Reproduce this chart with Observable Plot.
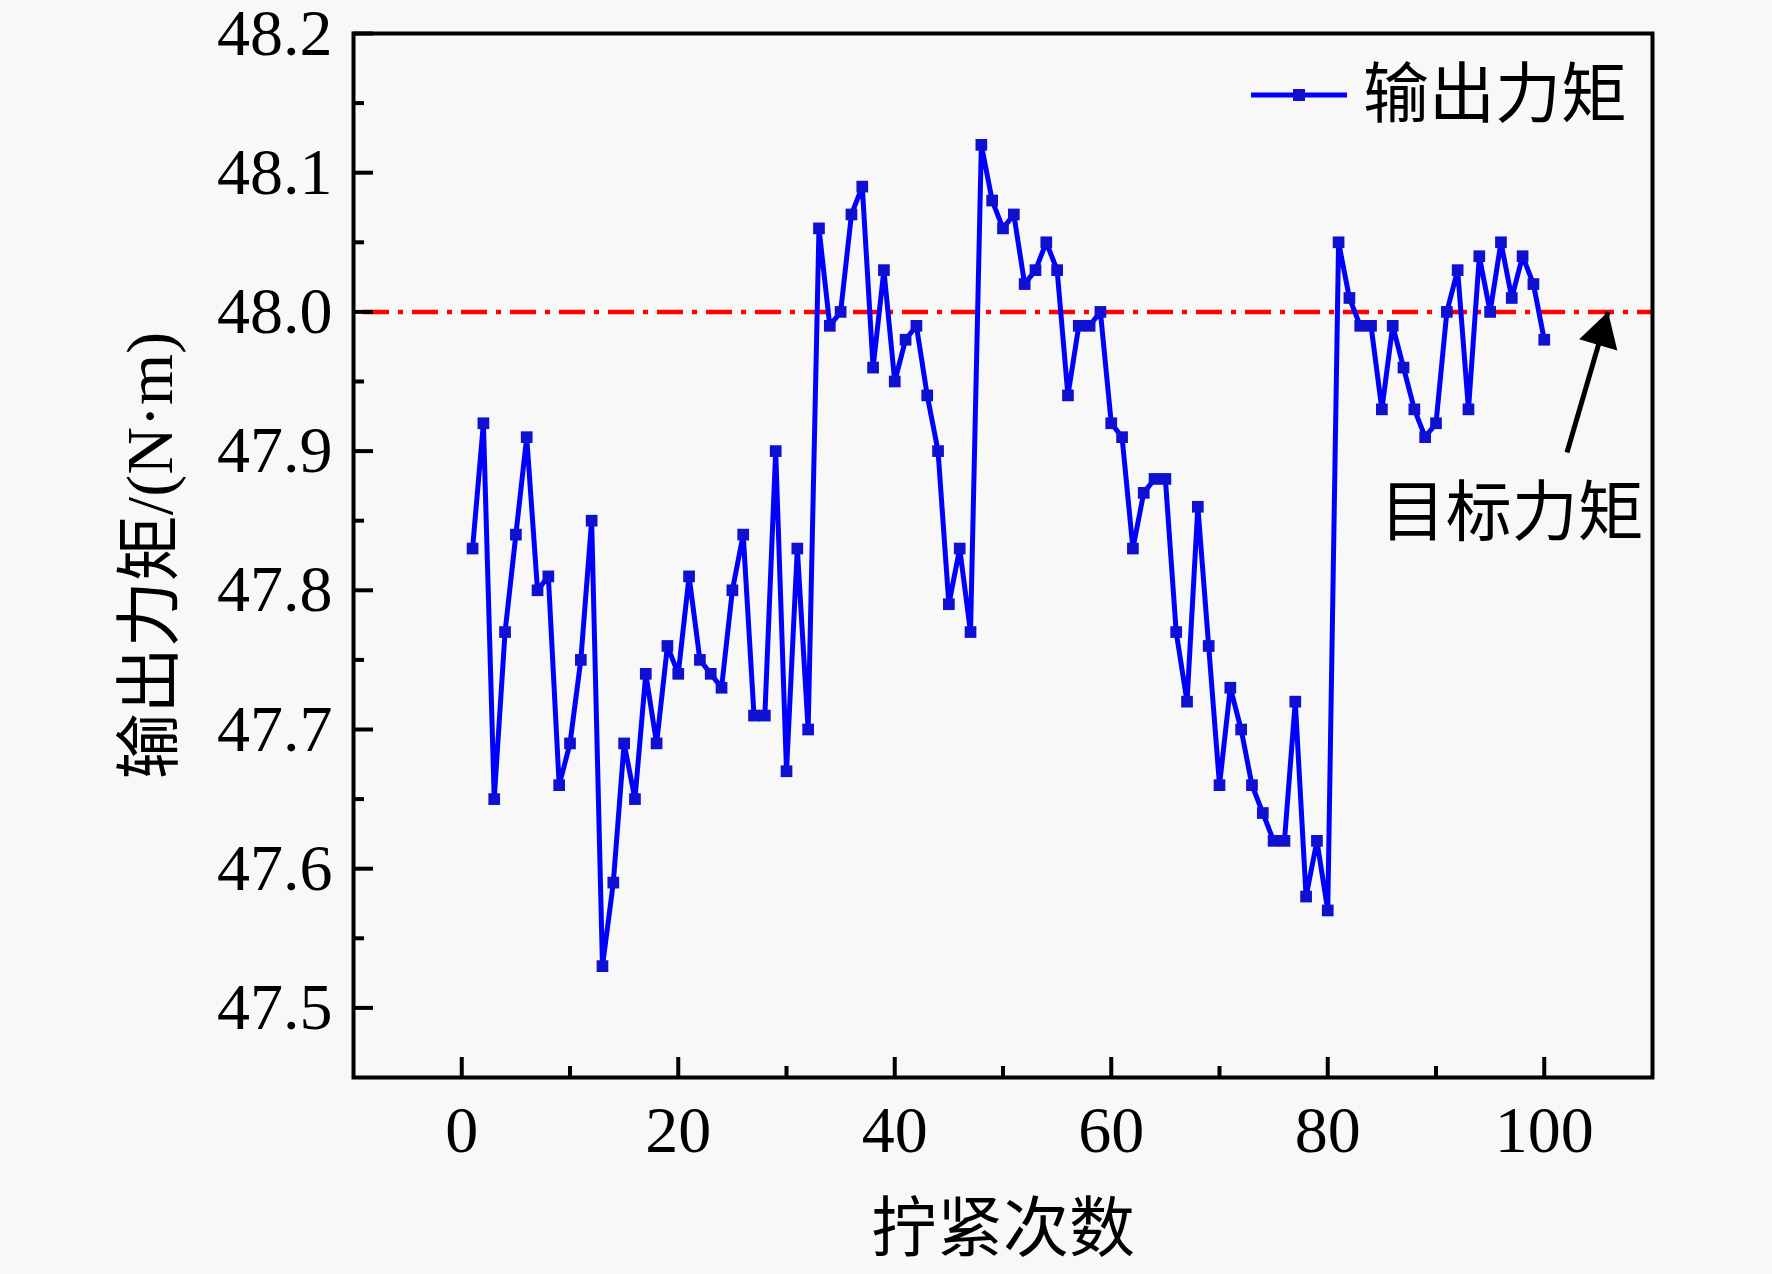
<!DOCTYPE html>
<html>
<head>
<meta charset="utf-8">
<script src="https://cdn.jsdelivr.net/npm/d3@7"></script>
<script src="https://cdn.jsdelivr.net/npm/@observablehq/plot@0.6"></script>
<style>
  html, body { margin: 0; padding: 0; background: #f8f8f8; }
  #wrap { position: relative; width: 1772px; height: 1274px; background: #f8f8f8; }
  #legend { position: absolute; left: 1251px; top: 60px; height: 70px; display: flex; align-items: center; }
  #legend span { margin-left: 16px; font-family: "Liberation Serif", "Noto Sans CJK SC", serif; font-size: 66px; color: #000; line-height: 1; }
</style>
</head>
<body>
<div id="wrap">
  <div id="chart"></div>
  <div id="legend">
    <svg width="96" height="20"><line x1="0" y1="10" x2="96" y2="10" stroke="#0000ff" stroke-width="5"/><rect x="42" y="4" width="12" height="12" fill="#1010d0"/></svg>
    <span>输出力矩</span>
  </div>
</div>
<script>
// Data
const trials = d3.range(1, 101);
const torque = [
  47.83, 47.92, 47.65, 47.77, 47.84, 47.91, 47.80, 47.81, 47.66, 47.69,
  47.75, 47.85, 47.53, 47.59, 47.69, 47.65, 47.74, 47.69, 47.76, 47.74,
  47.81, 47.75, 47.74, 47.73, 47.80, 47.84, 47.71, 47.71, 47.90, 47.67,
  47.83, 47.70, 48.06, 47.99, 48.00, 48.07, 48.09, 47.96, 48.03, 47.95,
  47.98, 47.99, 47.94, 47.90, 47.79, 47.83, 47.77, 48.12, 48.08, 48.06,
  48.07, 48.02, 48.03, 48.05, 48.03, 47.94, 47.99, 47.99, 48.00, 47.92,
  47.91, 47.83, 47.87, 47.88, 47.88, 47.77, 47.72, 47.86, 47.76, 47.66,
  47.73, 47.70, 47.66, 47.64, 47.62, 47.62, 47.72, 47.58, 47.62, 47.57,
  48.05, 48.01, 47.99, 47.99, 47.93, 47.99, 47.96, 47.93, 47.91, 47.92,
  48.00, 48.03, 47.93, 48.04, 48.00, 48.05, 48.01, 48.04, 48.02, 47.98
];
const targetTorque = [48.0];
const xMajorTicks = [0, 20, 40, 60, 80, 100];
const xMinorTicks = [10, 30, 50, 70, 90];
const yMajorTicks = [47.5, 47.6, 47.7, 47.8, 47.9, 48.0, 48.1, 48.2];
const yMinorTicks = [47.55, 47.65, 47.75, 47.85, 47.95, 48.05, 48.15];
const xLabel = "拧紧次数";
const yLabel = "输出力矩/(N·m)";
// annotation: arrow tail -> tip, and its text
const arrowFrom = [{x: 102.1, y: 47.899}];
const arrowTo = [{x: 105.9, y: 48.0}];
const noteText = [{x: 97.0, y: 47.855, text: "目标力矩"}];

const data = trials.map((t, i) => ({t, v: torque[i]}));
const arrow = arrowFrom.map((a, i) => ({x1: a.x, y1: a.y, x2: arrowTo[i].x, y2: arrowTo[i].y}));

const font = "'Liberation Serif', 'Noto Sans CJK SC', serif";

const chart = Plot.plot({
  width: 1772,
  height: 1274,
  marginLeft: 353,
  marginRight: 120,
  marginTop: 33,
  marginBottom: 197,
  x: {domain: [-10, 110]},
  y: {domain: [47.45, 48.2]},
  style: {background: "#f8f8f8", fontFamily: font, color: "#000", overflow: "visible"},
  marks: [
    Plot.ruleY(targetTorque, {stroke: "#ff0000", strokeWidth: 4.5, strokeDasharray: "26,9,5,9", strokeDashoffset: -10}),
    Plot.line(data, {x: "t", y: "v", stroke: "#0000ff", strokeWidth: 5}),
    Plot.dot(data, {x: "t", y: "v", symbol: "square", r: 6.6, fill: "#1010d0", stroke: null}),
    Plot.link(arrow, {x1: "x1", y1: "y1", x2: "x2", y2: "y2", stroke: "#000", strokeWidth: 5}),
    Plot.dot(arrowTo, {x: "x", y: "y", symbol: "triangle2", r: 19, fill: "#000", stroke: null, rotate: 16.5, dx: -6.6, dy: 22}),
    Plot.text(noteText, {x: "x", y: "y", text: "text", fontSize: 66, fontFamily: font, fill: "#000", textAnchor: "middle", lineAnchor: "middle"}),
    Plot.axisX(xMajorTicks, {tickSize: -20, strokeWidth: 4, tickFormat: () => "", label: null}),
    Plot.axisX(xMinorTicks, {tickSize: -11, strokeWidth: 4, tickFormat: () => "", label: null}),
    Plot.axisX(xMajorTicks, {tickSize: 0, tickPadding: 28, tickFormat: d3.format("d"), fontSize: 66, fontFamily: font, label: null}),
    Plot.axisY(yMajorTicks, {tickSize: -20, strokeWidth: 4, tickFormat: () => "", label: null}),
    Plot.axisY(yMinorTicks, {tickSize: -11, strokeWidth: 4, tickFormat: () => "", label: null}),
    Plot.axisY(yMajorTicks, {tickSize: 0, tickPadding: 21, tickFormat: d3.format(".1f"), fontSize: 66, fontFamily: font, label: null}),
    Plot.frame({stroke: "#000", strokeWidth: 4}),
    Plot.text([xLabel], {text: d => d, frameAnchor: "bottom", dy: 152, fontSize: 66, fontFamily: font, fill: "#000", lineAnchor: "middle"}),
    Plot.text([yLabel], {text: d => d, frameAnchor: "left", dx: -203, rotate: -90, fontSize: 66, fontFamily: font, fill: "#000", lineAnchor: "middle", textAnchor: "middle"})
  ]
});
document.getElementById("chart").appendChild(chart);
</script>
</body>
</html>
